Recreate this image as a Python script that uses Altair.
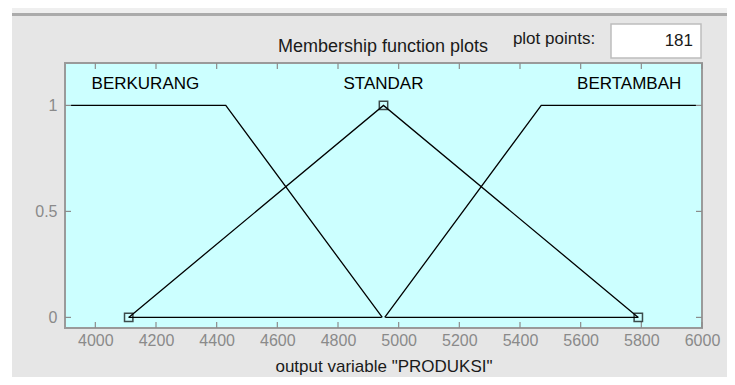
import altair as alt
import pandas as pd

# ---- data ----
mf_names = ["BERKURANG", "STANDAR", "BERTAMBAH"]
berkurang_x = [3920, 4430, 4946]
berkurang_y = [1, 1, 0]
standar_x = [4110, 4950, 5790]
standar_y = [0, 1, 0]
bertambah_x = [4954, 5470, 5980]
bertambah_y = [0, 1, 1]
base_left_x = [4110, 4944]
base_right_x = [4956, 5790]
base_y = [0, 0]
label_x = [4165, 4950, 5760]
label_y = [1.1, 1.1, 1.1]
x_ticks = [4000, 4200, 4400, 4600, 4800, 5000, 5200, 5400, 5600, 5800, 6000]
y_ticks = [0, 0.5, 1]
x_domain = [3900, 6000]
y_domain = [-0.05, 1.2]

FONT = "Liberation Sans"
W, H = 637, 265

rows = []
for name, xs_, ys_ in [("BERKURANG", berkurang_x, berkurang_y),
                       ("STANDAR", standar_x, standar_y),
                       ("BERTAMBAH", bertambah_x, bertambah_y),
                       ("base_left", base_left_x, base_y),
                       ("base_right", base_right_x, base_y)]:
    for i, (xv, yv) in enumerate(zip(xs_, ys_)):
        rows.append({"series": name, "order": i, "x": xv, "y": yv})
lines_df = pd.DataFrame(rows)
handles_df = pd.DataFrame({"x": standar_x, "y": standar_y})
labels_df = pd.DataFrame({"x": label_x, "y": label_y, "name": mf_names})
xt_df = pd.DataFrame({"v": x_ticks})
yt_df = pd.DataFrame({"v": y_ticks})

xs = alt.Scale(domain=x_domain, nice=False, zero=False)
ys = alt.Scale(domain=y_domain, nice=False, zero=False)

one = alt.Data(values=[{"a": 1}])


def deco_rect(x, x2, y, y2, color, stroke=None, sw=0):
    kw = dict(color=color)
    if stroke:
        kw.update(stroke=stroke, strokeWidth=sw)
    return alt.Chart(one).mark_rect(**kw).encode(
        x=alt.value(x), x2=alt.value(x2), y=alt.value(y), y2=alt.value(y2))


def deco_text(txt, x, y, size=17, align="center", color="#1a1a1a"):
    return alt.Chart(one).mark_text(text=txt, font=FONT, fontSize=size, align=align,
                                     baseline="middle", color=color).encode(
        x=alt.value(x), y=alt.value(y))


left_strip = deco_rect(-57, -53, -60, 320, "#ffffff")
top_strip = deco_rect(-53, 680, -55, -50, "#efefef")
top_line = deco_rect(-53, 680, -50, -47, "#ababab")
box = deco_rect(546, 636, -39, -5, "#ffffff", stroke="#bdbdbd", sw=1.5)
t_title = deco_text("Membership function plots", 318, -16, size=18)
t_pp = deco_text("plot points:", 489, -24)
t_181 = deco_text("181", 628, -22, align="right")

axis_x = alt.Axis(values=x_ticks, ticks=False, domain=False, grid=False, format="d",
                  labelOverlap=False, labelFlush=False,
                  labelFont=FONT, labelFontSize=16, labelColor="#8a8a8a",
                  labelPadding=4, title='output variable "PRODUKSI"',
                  titleFont=FONT, titleFontSize=17, titleFontWeight="normal",
                  titleColor="#1a1a1a", titlePadding=10)
axis_y = alt.Axis(values=y_ticks, ticks=False, domain=False, grid=False, format="~g",
                  labelFont=FONT, labelFontSize=16, labelColor="#8a8a8a",
                  labelPadding=8, title=None)

lines = alt.Chart(lines_df).mark_line(color="#000000", strokeWidth=1.3).encode(
    x=alt.X("x:Q", scale=xs, axis=axis_x),
    y=alt.Y("y:Q", scale=ys, axis=axis_y),
    detail="series:N",
    order="order:Q",
)

handles = alt.Chart(handles_df).mark_square(filled=False, color="#000000", size=70,
                                            strokeWidth=1.5).encode(
    x=alt.X("x:Q", scale=xs), y=alt.Y("y:Q", scale=ys))

labels = alt.Chart(labels_df).mark_text(font=FONT, fontSize=17, color="#000000",
                                        baseline="middle").encode(
    x=alt.X("x:Q", scale=xs), y=alt.Y("y:Q", scale=ys), text="name:N")

tick_col = "#8c8c8c"
xt_bot = alt.Chart(xt_df).mark_rule(color=tick_col, strokeWidth=1.2).encode(
    x=alt.X("v:Q", scale=xs), y=alt.value(H), y2=alt.value(H - 6))
xt_top = alt.Chart(xt_df).mark_rule(color=tick_col, strokeWidth=1.2).encode(
    x=alt.X("v:Q", scale=xs), y=alt.value(0), y2=alt.value(6))
yt_left = alt.Chart(yt_df).mark_rule(color=tick_col, strokeWidth=1.2).encode(
    y=alt.Y("v:Q", scale=ys), x=alt.value(0), x2=alt.value(6))
yt_right = alt.Chart(yt_df).mark_rule(color=tick_col, strokeWidth=1.2).encode(
    y=alt.Y("v:Q", scale=ys), x=alt.value(W), x2=alt.value(W - 6))

chart = alt.layer(
    left_strip, top_strip, top_line, box, t_title, t_pp, t_181,
    xt_bot, xt_top, yt_left, yt_right,
    lines, handles, labels,
).properties(
    width=W, height=H,
    padding={"left": 57, "top": 55, "right": 25, "bottom": 49},
    autosize=alt.AutoSizeParams(type="none"),
    background="#e6e6e6",
).configure_view(
    fill="#ccffff", stroke="#9a9a9a", strokeWidth=2
)

chart.save("out.html", embed_options={"renderer": "svg", "actions": False})
